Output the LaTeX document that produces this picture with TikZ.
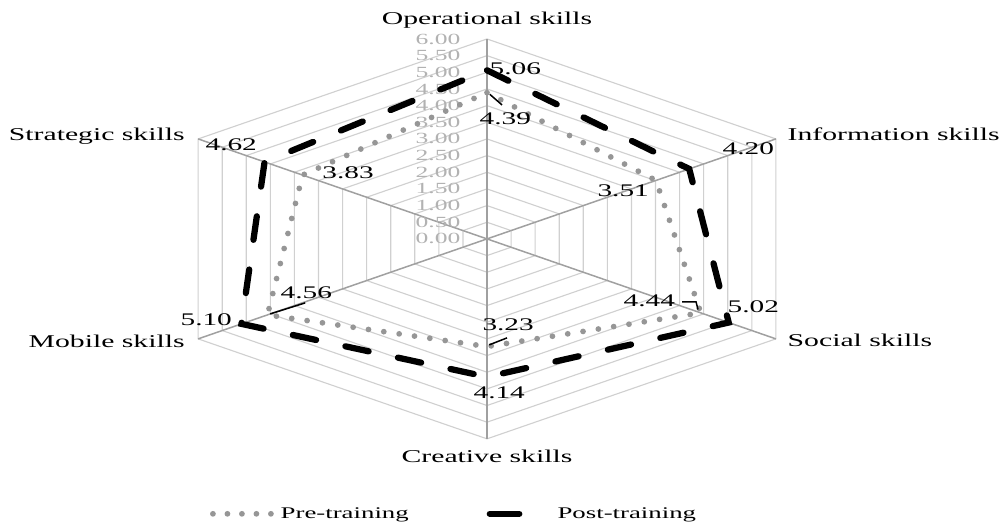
\documentclass[tikz,border=0pt]{standalone}
\usepackage{fontspec}
\setmainfont{Liberation Serif}[FakeStretch=1.65]
\usetikzlibrary{positioning}

\definecolor{ringgray}{RGB}{208,208,208}
\definecolor{spokegray}{RGB}{160,160,160}
\definecolor{pregray}{RGB}{150,150,150}
\definecolor{tickgray}{RGB}{178,178,178}

\tikzset{
  ring/.style={ringgray, line width=0.45pt},
  spoke/.style={spokegray, line width=0.6pt},
  preline/.style={pregray, line width=2.3pt, line cap=round, dash pattern=on 0pt off 6.2pt},
  postline/.style={black, line width=2.5pt, line cap=round, dash pattern=on 9.5pt off 12pt},
  axislabel/.style={font=\fontsize{7.2}{8}\selectfont, inner sep=0pt},
  vallabel/.style={font=\fontsize{7.1}{8}\selectfont, inner sep=0pt, anchor=base west},
  ticklabel/.style={tickgray, font=\fontsize{6.2}{7}\selectfont, inner sep=0pt, anchor=east},
  leader/.style={black, line width=0.6pt},
  legendtext/.style={font=\fontsize{6.5}{7}\selectfont, inner sep=0pt, anchor=base west}
}

\begin{document}
\begin{tikzpicture}[x=22.24pt, y=13.33pt]
    \useasboundingbox (-8.76,-8.55) rectangle (9.317,7.17);

    % grid
    \foreach \r in {0.5,1,...,6}
        \draw[ring] (90:\r) -- (30:\r) -- (-30:\r) -- (-90:\r) -- (210:\r) -- (150:\r) -- cycle;
    \foreach \a in {90,30,-30,-90,210,150}
        \draw[spoke] (0,0) -- (\a:6);

    \foreach \t [count=\i from 0] in {0.00,0.50,1.00,1.50,2.00,2.50,3.00,3.50,4.00,4.50,5.00,5.50,6.00}
        \node[ticklabel] (tick\i) at (-0.47,\i/2) {\t};

    % data points
    \foreach \a/\p/\q [count=\i] in {90/4.39/5.06, 30/3.51/4.20, -30/4.44/5.02, -90/3.23/4.14, 210/4.56/5.10, 150/3.83/4.62} {
        \coordinate (pre\i) at (\a:\p);
        \coordinate (post\i) at (\a:\q);
    }
    \draw[preline] (pre1) -- (pre2) -- (pre3) -- (pre4) -- (pre5) -- (pre6) -- cycle;
    \draw[postline] (post1) -- (post2) -- (post3) -- (post4) -- (post5) -- (post6) -- cycle;

    % axis labels
    \node[axislabel, anchor=base] (oper) at (0,6.42) {Operational skills};
    \node[axislabel, anchor=base west] (info) at (5.40,2.94) {Information skills};
    \node[axislabel, anchor=base west] (social) at (5.40,-3.24) {Social skills};
    \node[axislabel, anchor=base] (creat) at (0,-6.72) {Creative skills};
    \node[axislabel, anchor=base east] (mobile) at (-5.43,-3.27) {Mobile skills};
    \node[axislabel, anchor=base east] (strat) at (-5.43,2.94) {Strategic skills};

    % value labels
    \node[vallabel] (vpost1) at (0.04,4.92) {5.06};
    \node[vallabel] (vpre1) at (-0.14,3.42) {4.39};
    \node[vallabel] (vpost2) at (4.23,2.52) {4.20};
    \node[vallabel] (vpre2) at (1.98,1.26) {3.51};
    \node[vallabel] (vpost3) at (4.32,-2.22) {5.02};
    \node[vallabel] (vpre3) at (2.45,-2.04) {4.44};
    \node[vallabel] (vpre4) at (-0.09,-2.76) {3.23};
    \node[vallabel] (vpost4) at (-0.25,-4.80) {4.14};
    \node[vallabel] (vpre5) at (-3.72,-1.80) {4.56};
    \node[vallabel] (vpost5) at (-5.52,-2.61) {5.10};
    \node[vallabel] (vpost6) at (-5.07,2.64) {4.62};
    \node[vallabel] (vpre6) at (-2.97,1.80) {3.83};

    %leaders
    \coordinate (lead1) at (0.27,4.02);
    \coordinate (lead3a) at (3.51,-1.89);
    \coordinate (lead3b) at (3.76,-1.89);
    \coordinate (lead4) at (0.36,-2.97);
    \coordinate (lead5) at (-3.27,-1.92);
    \draw[leader] ([shift={(0.05,-0.05)}]pre1) -- (lead1);
    \draw[leader] (lead3a) -- (lead3b) -- ([shift={(-0.05,0.1)}]pre3);
    \draw[leader] ([shift={(0.04,0.05)}]pre4) -- (lead4);
    \draw[leader] ([shift={(0.05,0.03)}]pre5) -- (lead5);

    % legend
    \coordinate (legpreA) at (-4.93,-8.25);
    \coordinate (legpreB) at (-3.87,-8.25);
    \coordinate (legpostA) at (0.05,-8.25);
    \coordinate (legpostB) at (0.58,-8.25);
    \draw[preline, dash pattern=on 0pt off 5.8pt] (legpreA) -- (legpreB);
    \draw[black, line width=2.5pt, line cap=round] (legpostA) -- (legpostB);
    \node[legendtext] (legpre) at (-3.72,-8.40) {Pre-training};
    \node[legendtext] (legpost) at (1.26,-8.40) {Post-training};
\end{tikzpicture}
\end{document}
